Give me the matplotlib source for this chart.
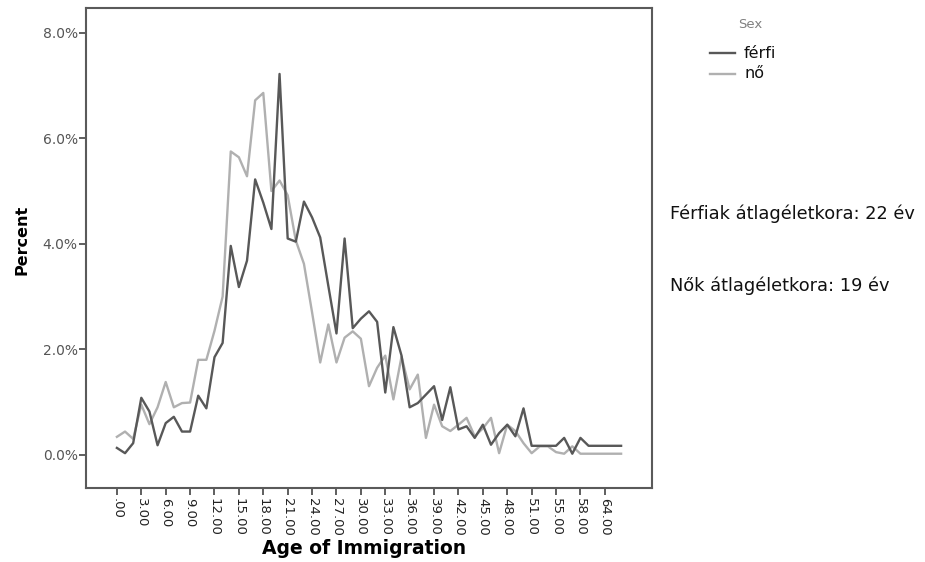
import matplotlib
matplotlib.use("Agg")
import matplotlib.pyplot as plt
from matplotlib.lines import Line2D

plt.rcParams['font.family'] = ['DejaVu Sans']

# Age categories present in the data (x axis is categorical, SPSS style)
ages = list(range(52)) + [53, 54, 55, 56, 57, 58, 60, 62, 64, 65, 67]

ferfi = [0.13, 0.03, 0.22, 1.08, 0.82, 0.18, 0.60, 0.72, 0.44, 0.44,
         1.12, 0.88, 1.85, 2.12, 3.96, 3.18, 3.68, 5.22, 4.78, 4.28,
         7.22, 4.10, 4.04, 4.80, 4.50, 4.12, 3.20, 2.30, 4.10, 2.40,
         2.58, 2.72, 2.52, 1.18, 2.42, 1.88, 0.90, 0.98, 1.14, 1.30,
         0.66, 1.28, 0.48, 0.54, 0.32, 0.57, 0.19, 0.41, 0.57, 0.35,
         0.88, 0.17, 0.17, 0.17, 0.17, 0.32, 0.02, 0.32, 0.17, 0.17,
         0.17, 0.17, 0.17]

no = [0.34, 0.44, 0.30, 0.95, 0.58, 0.90, 1.38, 0.90, 0.98, 0.99,
      1.80, 1.80, 2.35, 3.00, 5.75, 5.64, 5.28, 6.72, 6.86, 5.00,
      5.20, 4.92, 4.06, 3.62, 2.70, 1.75, 2.47, 1.75, 2.22, 2.34,
      2.20, 1.30, 1.65, 1.88, 1.05, 1.86, 1.24, 1.52, 0.32, 0.95,
      0.54, 0.45, 0.57, 0.70, 0.35, 0.50, 0.70, 0.03, 0.57, 0.45,
      0.22, 0.03, 0.16, 0.16, 0.05, 0.02, 0.16, 0.02, 0.02, 0.02,
      0.02, 0.02, 0.02]

series_names = ['férfi', 'nő']
legend_title = 'Sex'
y_ticks = [0, 2, 4, 6, 8]
y_ticklabels = ['0.0%', '2.0%', '4.0%', '6.0%', '8.0%']
notes = ['Férfiak átlagéletkora: 22 év', 'Nők átlagéletkora: 19 év']

dark = '#585858'
light = '#b0b0b0'

fig = plt.figure(figsize=(9.25, 5.62), dpi=100)
W, H = 925, 562
L, R, T, B = 86, 652, 8, 488
ax = fig.add_axes([L / W, 1 - B / H, (R - L) / W, (B - T) / H])

idx = list(range(len(ages)))
ax.plot(idx, no, color=light, lw=1.7)
ax.plot(idx, ferfi, color=dark, lw=1.7)

ax.set_xlim(-3.8, 65.8)
ax.set_ylim(-0.63, 8.47)

ax.set_yticks(y_ticks)
ax.set_yticklabels(y_ticklabels, fontsize=10, color='#555555')
tick_idx = idx[::3]
ax.set_xticks(tick_idx)
xl = []
for i in tick_idx:
    a = ages[i]
    xl.append('.00' if a == 0 else f'{a}.00')
ax.set_xticklabels(xl, rotation=270, fontsize=9.5, color='#222222')

ax.tick_params(axis='both', direction='out', length=5, width=1.1, color='#333333')
ax.tick_params(axis='y', pad=1)
ax.tick_params(axis='x', pad=2)
for s in ax.spines.values():
    s.set_color('#5a5a5a')
    s.set_linewidth(1.5)

fig.text(22 / W, 1 - 240 / H, 'Percent', fontsize=11.5, fontweight='bold',
         rotation=90, ha='center', va='center')
fig.text(364 / W, 1 - 549 / H, 'Age of Immigration', fontsize=13.5,
         fontweight='bold', ha='center', va='center')

# legend drawn manually
fig.text(750 / W, 1 - 24 / H, legend_title, fontsize=9.5, color='#808080',
         ha='center', va='center')
for k, (nm, col) in enumerate(zip(series_names, [dark, light])):
    yy = 1 - (53 + 21 * k) / H
    fig.add_artist(Line2D([710 / W, 735 / W], [yy, yy], color=col, lw=1.7,
                          transform=fig.transFigure))
    fig.text(744 / W, yy, nm, fontsize=11.5, color='#111111', ha='left',
             va='center')

fig.text(670 / W, 1 - 214 / H, notes[0], fontsize=12.8, va='center', ha='left', color='#111111')
fig.text(670 / W, 1 - 286 / H, notes[1], fontsize=12.8, va='center', ha='left', color='#111111')

fig.savefig('out.png', dpi=100)
